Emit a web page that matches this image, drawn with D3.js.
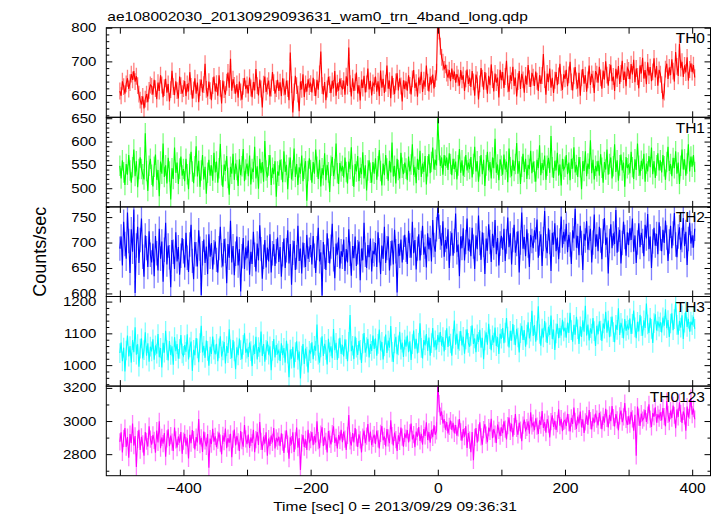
<!DOCTYPE html>
<html><head><meta charset="utf-8">
<script src="https://cdn.jsdelivr.net/npm/d3@7"></script>
<style>
body{margin:0;background:#fff}
svg{display:block}
text{font-family:"Liberation Sans",Arial,Helvetica,sans-serif;fill:#000}
</style>
</head><body>
<svg id="c" width="718" height="516"></svg>
<script>
// ---------- data ----------
const title = "ae108002030_20130929093631_wam0_trn_4band_long.qdp";
const xLabel = "Time [sec] 0 = 2013/09/29 09:36:31";
const yLabel = "Counts/sec";
const tStart = -500, tStep = 2;           // bin start and width (s)
const xDomain = [-521.3, 428.8];
const xTicks = [-500,-400,-300,-200,-100,0,100,200,300,400];
const xTickLabels = [-400,-200,0,200,400];
const panelNames = ["TH0","TH1","TH2","TH3","TH0123"];
const panelColors = ["#ff0000","#00ff00","#0000ff","#00ffff","#ff00ff"];
const yDomains = [[534,800],[460,652],[594,770],[934,1216],[2670,3211]];
const yMajorTicks = [[600,700,800],[500,550,600,650],[600,650,700,750],[1000,1100,1200],[2800,3000,3200]];
const yMinorStep = [20,10,10,20,100];
const errors = [25,22,24,31,52];

const th0 = [
612,598,641,625,604,633,650,618,637,662,645,671,640,656,628,603,585,572,596,560,588,603,579,614,630,
626,601,645,619,588,637,612,659,630,594,622,648,607,633,581,616,672,625,600,641,613,590,655,628,604,
619,642,597,633,611,668,626,589,615,650,604,637,579,622,646,608,631,693,617,596,640,613,585,628,655,
611,634,598,659,620,575,643,616,601,638,667,622,708,613,647,629,604,633,592,640,609,586,626,651,618,
630,605,652,621,594,639,614,677,628,599,646,618,563,632,655,609,627,643,596,621,668,637,604,619,645,
612,638,597,650,624,601,643,619,585,726,631,548,609,657,628,603,552,640,617,662,594,633,610,647,625,
634,608,651,622,597,645,616,663,729,628,602,639,585,618,654,631,606,642,620,671,598,635,613,649,626,
619,643,601,656,627,741,634,596,650,612,638,667,605,629,584,646,621,657,608,633,679,617,642,599,636,
628,655,610,641,597,673,622,648,606,635,688,619,643,591,657,626,603,639,665,614,650,627,581,644,618,
641,613,659,629,602,648,674,621,637,595,652,630,669,609,644,625,688,638,611,654,632,661,620,649,668,
840,790,745,712,698,676,690,665,652,674,641,679,648,670,637,662,651,628,674,645,659,612,648,676,633,
652,624,671,639,598,661,645,587,633,680,650,616,668,641,604,657,629,691,646,611,664,637,652,593,675,
644,668,621,655,702,633,610,659,642,684,627,652,596,640,671,618,663,645,607,658,631,689,649,624,666,
653,627,670,641,612,659,633,658,722,646,601,664,638,679,622,651,606,644,668,629,657,693,637,615,662,
648,675,626,660,699,639,614,657,683,642,620,666,598,651,677,634,659,610,645,688,630,663,647,606,671,
662,637,684,651,619,673,646,700,659,628,667,690,641,655,612,678,649,686,633,664,702,645,670,626,681,
673,647,692,661,705,638,679,655,620,688,664,711,649,674,632,697,658,683,641,669,709,652,686,628,675,
662,631,588,609,677,693,648,682,659,706,671,640,728,685,657,752,680,699,654,688,667,712,643,676,694,
668,689,652];

const th1 = [
548,521,560,534,507,552,529,571,538,512,545,583,526,558,502,541,566,541,530,519,618,537,494,548,563,
529,504,546,572,518,539,483,557,531,596,524,549,510,565,536,476,543,520,587,533,555,509,542,568,527,
541,515,563,530,498,552,578,536,511,547,590,525,559,503,538,571,519,546,488,533,561,527,549,516,576,
534,557,512,543,595,528,503,551,537,569,522,486,546,531,574,518,553,539,505,562,528,547,584,515,540,
553,526,570,508,541,535,589,521,547,499,563,532,556,514,601,538,523,549,571,507,544,530,558,482,536,
527,561,540,513,579,535,550,498,544,566,519,538,585,524,552,507,545,531,570,515,542,558,473,537,564,
539,512,556,531,583,546,520,561,504,543,528,575,517,550,534,492,548,567,526,541,596,532,509,554,536,
548,523,566,535,510,557,541,588,527,503,552,536,569,515,544,530,577,521,549,495,538,560,533,512,556,
531,564,518,547,582,537,506,553,528,571,542,516,559,534,598,525,548,510,563,539,521,576,544,530,555,
542,517,568,536,551,594,528,546,511,563,539,580,524,553,535,569,508,547,573,532,556,587,540,561,549,
650,582,548,566,529,571,548,566,539,575,552,528,563,541,557,519,549,584,533,560,527,546,571,538,555,
541,567,523,552,589,536,558,514,547,571,530,561,505,549,578,538,556,521,566,543,606,533,551,517,562,
548,529,572,540,557,513,585,545,526,561,537,552,597,531,558,509,546,574,535,563,520,550,541,580,532,
557,536,514,561,543,592,528,554,539,570,518,548,565,533,612,545,522,559,538,576,527,551,506,563,540,
546,571,530,555,517,563,542,588,534,550,524,567,545,498,558,537,579,526,553,541,603,532,561,519,548,
536,559,527,573,544,512,556,540,583,529,552,566,521,547,594,535,560,516,549,572,538,555,503,567,543,
551,532,578,545,520,562,539,596,548,527,559,541,574,514,553,536,569,545,587,530,558,522,549,575,538,
560,534,571,547,518,556,589,537,552,526,565,543,579,531,555,509,548,583,540,562,527,553,594,536,568,
546,571,535];

const th2 = [
688,712,655,741,697,668,759,703,640,726,682,765,601,694,731,660,705,747,672,633,714,689,652,722,676,
661,698,634,713,679,645,727,668,702,623,686,739,657,694,671,612,705,682,648,720,663,691,637,674,709,
683,651,719,670,642,696,735,664,628,701,677,653,724,688,597,679,706,660,692,638,716,672,699,647,681,
702,666,641,689,731,675,653,707,684,620,697,670,743,661,693,636,678,712,655,687,604,673,709,648,690,
669,704,637,682,658,721,676,643,698,665,734,687,629,672,705,651,690,663,716,641,679,697,654,683,710,
662,691,633,677,708,650,685,724,659,697,617,680,703,646,671,733,664,688,639,700,675,652,715,668,686,
695,657,713,674,640,689,729,663,681,596,701,672,646,718,684,659,692,737,667,630,698,676,710,649,683,
672,706,644,687,661,726,678,635,693,669,712,654,681,702,626,688,665,739,676,650,695,671,708,643,684,
677,699,652,720,685,638,694,668,731,660,689,712,645,679,704,657,725,683,602,697,674,706,661,690,715,
686,658,723,694,670,741,679,705,647,688,716,665,699,733,676,692,651,718,687,709,663,744,695,682,726,
768,731,710,694,742,672,705,688,726,650,698,719,674,703,757,681,696,634,712,689,728,665,701,747,684,
706,673,729,692,648,714,687,753,699,666,720,695,638,708,684,736,701,662,717,690,744,677,709,655,698,
713,686,727,664,702,749,691,718,657,705,735,680,697,722,641,700,759,688,711,673,726,694,652,715,703,
689,724,706,745,670,698,716,654,707,762,693,679,728,701,644,719,696,738,683,710,667,704,751,690,721,
702,737,681,715,696,658,724,708,766,690,713,675,733,699,646,717,704,742,686,709,727,661,700,755,692,
716,683,731,704,667,722,748,695,710,639,703,736,689,718,697,764,680,706,725,659,699,741,711,674,720,
695,728,705,747,682,714,660,700,738,691,719,703,673,735,708,756,687,712,650,702,729,694,717,677,740,
708,683,725,699,743,710,664,702,733,689,718,758,696,671,712,730,686,705,748,693,721,656,707,739,698,
714,690,727];

const th3 = [
1038,1071,1012,1055,980,1046,1093,1027,1060,1008,1079,1041,1119,1033,1066,995,1052,1084,1021,1047,1103,1030,1069,1011,1058,
1043,1081,1017,1062,1036,1098,1025,1054,993,1070,1039,1108,1047,1015,1076,1032,1059,1001,1088,1044,1066,1020,1051,1095,1037,
1029,1063,1042,1097,1018,1056,1074,982,1048,1031,1085,1053,1009,1069,1124,1040,1061,1023,1077,1045,998,1058,1035,1090,1049,
1034,1067,1012,1053,1091,1027,1046,1073,1005,1060,1038,1113,1050,1022,1079,1043,987,1056,1031,1084,1047,1019,1064,1100,1039,
1052,1026,1071,1044,997,1062,1035,1089,1018,1057,1040,1106,1029,1066,1011,1048,1075,1033,1059,984,1045,1082,1024,1063,1037,
1046,1013,1069,1031,1054,1008,1077,1036,962,1049,1020,1058,992,1041,1075,1017,1043,958,1030,1066,1004,1052,1027,977,1045,
1038,1072,1019,1061,1045,1128,1033,1008,1056,1091,1029,1067,1048,1002,1083,1040,1059,1022,1114,1047,1070,1016,1053,1086,1035,
1064,1027,1081,1050,1012,1073,1158,1044,1061,1019,1090,1055,1032,1076,1048,1007,1068,1101,1039,1057,1083,1024,1066,1045,1093,
1051,1084,1030,1067,1112,1046,1073,1018,1059,1096,1038,1077,1055,1123,1042,1010,1068,1089,1034,1062,1105,1049,1071,1026,1080,
1058,1093,1041,1075,1016,1066,1109,1052,1083,1037,1070,1132,1054,1021,1079,1062,1098,1045,1087,1030,1069,1117,1056,1078,1049,
1095,1072,1104,1061,1088,1043,1079,1116,1057,1091,1068,1030,1083,1140,1064,1099,1050,1076,1107,1062,1089,1036,1081,1113,1070,
1058,1092,1125,1067,1084,1041,1097,1073,1111,1055,1086,1019,1078,1103,1064,1130,1082,1047,1094,1071,1118,1060,1088,1035,1099,
1083,1117,1069,1102,1148,1090,1056,1108,1077,1129,1095,1063,1114,1087,1040,1101,1124,1079,1110,1058,1096,1135,1084,1105,1171,
1092,1126,1074,1109,1185,1098,1061,1115,1087,1139,1103,1070,1121,1095,1156,1082,1112,1048,1100,1130,1085,1117,1093,1143,1106,
1118,1086,1134,1101,1165,1110,1074,1127,1096,1152,1113,1067,1122,1089,1141,1105,1187,1093,1128,1078,1116,1099,1148,1107,1060,
1124,1097,1138,1109,1076,1131,1115,1168,1102,1140,1088,1121,1153,1104,1072,1127,1111,1179,1095,1133,1116,1084,1145,1108,1125,
1112,1147,1098,1130,1172,1119,1085,1136,1106,1158,1123,1093,1141,1117,1194,1128,1101,1149,1114,1070,1132,1160,1109,1138,1121,
1135,1103,1150,1124,1176,1116,1142,1089,1131,1163,1110,1145,1199,1127,1096,1139,1118,1157,1082,1134,1169,1120,1146,1105,1137,
1126,1152,1114];

const th0123 = [
2874,2932,2811,2896,2958,2843,2903,2779,2921,2867,2985,2852,2910,2722,2889,2947,2825,2905,2862,2791,2934,2878,2846,2969,2891,
2857,2916,2883,2809,2942,2871,2998,2836,2901,2864,2927,2785,2893,2950,2848,2912,2873,2819,2961,2886,2840,2907,2869,2934,2802,
2879,2923,2851,2896,2774,2917,2866,2945,2888,2829,2903,2871,3012,2858,2899,2814,2936,2880,2847,2921,2718,2894,2861,2953,2876,
2908,2842,2885,2930,2867,2799,2914,2876,2955,2836,2897,2869,2923,2781,2891,2948,2853,2910,2874,2820,2939,2882,2845,2976,2893,
2861,2919,2837,2901,2868,2947,2812,2888,2933,2856,2994,2877,2825,2906,2863,2932,2790,2894,2850,2913,2871,2958,2834,2899,2879,
2905,2848,2926,2872,2807,2891,2944,2861,2773,2902,2858,2932,2814,2880,2961,2839,2897,2705,2868,2915,2843,2890,2826,2947,2874,
2887,2933,2854,2911,2870,2998,2882,2836,2921,2963,2849,2906,2878,2810,2939,2891,2859,2924,2968,2867,2901,2835,2916,2883,2947,
2872,2936,2891,2825,2914,3036,2880,2852,2928,2871,2957,2898,2843,2920,2886,2811,2903,2942,2866,2909,2982,2875,2937,2854,2896,
2918,2861,2942,2893,2835,2925,2970,2884,2907,2846,2951,2899,2866,3004,2912,2853,2931,2888,2820,2914,2877,2960,2903,2845,2926,
2897,2946,2871,2929,2985,2889,2918,2842,2936,2905,2964,2880,2923,2858,2951,2910,2993,2886,2934,2869,2947,2902,2975,2917,2941,
3225,3105,3030,3058,2985,3012,2948,2994,2925,2968,3003,2947,2989,2926,2975,2911,2958,3012,2934,2882,2951,2906,2969,2838,2927,
2885,2812,2934,2763,2901,2958,2870,2929,2992,2904,2857,2948,2981,2915,2873,2960,2937,3014,2896,2952,2921,2867,2979,2943,2909,
2962,2927,2998,2951,2889,2973,3021,2938,2984,2906,2967,3042,2955,2917,2990,2946,2879,2976,3009,2943,2961,2998,2924,3053,2971,
2988,2945,3017,2969,2922,3004,2976,3060,2958,2993,2930,3011,2982,2901,2996,3035,2964,3002,2947,2985,3071,2972,3014,2939,2998,
3006,2970,3043,2991,2937,3019,2983,3082,2998,2952,3027,2986,3058,2961,3011,2928,2995,3034,2976,3066,3003,2949,3021,2987,3045,
3012,2973,3049,3005,2951,3028,2990,3074,3016,2962,3037,2999,3091,3020,2968,3042,3007,2944,3031,3063,2993,3025,3108,3010,2977,
3029,2981,3056,3013,2942,3038,2790,3087,3024,2970,3045,3005,3019,3067,2995,3036,3101,3011,2964,3049,3026,3083,2990,3041,3018,
3052,3004,3079,3027,2968,3121,3040,2996,3063,3018,3094,3035,2957,3070,3025,3113,3046,2989,3058,3031,2942,3087,3022,3066,3139,
3038,3075,3011];

const seriesValues = [th0, th1, th2, th3, th0123];

// ---------- layout ----------
const pLeft = 106.3, pRight = 710.5, pTop = 27.7, panelH = 89.6;

const svg = d3.select("#c");
const x = d3.scaleLinear().domain(xDomain).range([pLeft, pRight]);

function stretch(sel, k) {
  sel.each(function () {
    const t = d3.select(this);
    const ax = +(t.attr("x") || 0);
    t.attr("transform", `translate(${ax},0) scale(${k},1) translate(${-ax},0)`);
  });
}

seriesValues.forEach((vals, i) => {
  const y0 = pTop + i * panelH, y1 = y0 + panelH;
  const y = d3.scaleLinear().domain(yDomains[i]).range([y1, y0]);
  const g = svg.append("g");
  const clipId = "clip" + i;
  svg.append("clipPath").attr("id", clipId)
    .append("rect").attr("x", pLeft).attr("y", y0).attr("width", pRight - pLeft).attr("height", panelH);

  const pts = vals.map((v, j) => ({ t: tStart + j * tStep, v }));
  const err = errors[i];
  const dg = g.append("g").attr("clip-path", `url(#${clipId})`);
  dg.append("g").selectAll("line").data(pts).join("line")
    .attr("x1", d => x(d.t)).attr("x2", d => x(d.t))
    .attr("y1", d => y(d.v - err)).attr("y2", d => y(d.v + err))
    .attr("stroke", panelColors[i]).attr("stroke-opacity", 0.5).attr("stroke-width", 1.3);
  dg.append("path").datum(pts)
    .attr("fill", "none").attr("stroke", panelColors[i]).attr("stroke-width", 1.1)
    .attr("d", d3.line().x(d => x(d.t)).y(d => y(d.v)));

  // minor ticks
  const [d0, d1] = yDomains[i];
  const step = yMinorStep[i];
  const minor = d3.range(Math.ceil(d0 / step) * step, d1 + 0.001, step)
    .filter(v => !yMajorTicks[i].includes(v));

  const noDomain = s => s.select(".domain").remove();
  // left
  g.append("g").attr("transform", `translate(${pLeft},0)`)
    .call(d3.axisLeft(y).tickValues(minor).tickSize(-3).tickFormat(""))
    .call(noDomain);
  const la = g.append("g").attr("transform", `translate(${pLeft},0)`)
    .call(d3.axisLeft(y).tickValues(yMajorTicks[i]).tickSize(-6).tickPadding(10).tickFormat(d3.format("d")))
    .call(noDomain);
  la.selectAll("text").style("font-size", "12.5px").style("font-family", '"Liberation Sans",Arial,sans-serif')
    .attr("fill", "#000");
  stretch(la.selectAll("text"), 1.2);
  // right
  g.append("g").attr("transform", `translate(${pRight},0)`)
    .call(d3.axisRight(y).tickValues(minor).tickSize(-3).tickFormat(""))
    .call(noDomain);
  g.append("g").attr("transform", `translate(${pRight},0)`)
    .call(d3.axisRight(y).tickValues(yMajorTicks[i]).tickSize(-6).tickFormat(""))
    .call(noDomain);
  // top / bottom x ticks
  g.append("g").attr("transform", `translate(0,${y0})`)
    .call(d3.axisTop(x).tickValues(xTicks).tickSize(-6).tickFormat(""))
    .call(noDomain);
  const isLast = i === seriesValues.length - 1;
  const ba = g.append("g").attr("transform", `translate(0,${y1})`)
    .call(d3.axisBottom(x).tickValues(xTicks).tickSize(-6).tickPadding(7)
      .tickFormat(d => (isLast && xTickLabels.includes(d)) ? d3.format("d")(d) : ""))
    .call(noDomain);
  ba.selectAll("text").style("font-size", "14px").style("font-family", '"Liberation Sans",Arial,sans-serif')
    .attr("fill", "#000");
  stretch(ba.selectAll("text"), 1.12);

  g.selectAll(".tick line").attr("stroke", "#000");

  // frame
  g.append("rect").attr("x", pLeft).attr("y", y0).attr("width", pRight - pLeft).attr("height", panelH)
    .attr("fill", "none").attr("stroke", "#000").attr("stroke-width", 1);

  // panel label
  g.append("text").attr("x", 705).attr("y", y0 + 15.5).attr("text-anchor", "end")
    .style("font-size", "15.5px").text(panelNames[i]);
});

// title
const tt = svg.append("text").attr("x", 107.3).attr("y", 20.7).style("font-size", "12.5px").text(title);
stretch(tt, 1.24);
// x label
const xl = svg.append("text").attr("x", 395).attr("y", 510.7).attr("text-anchor", "middle")
  .style("font-size", "12.5px").text(xLabel);
stretch(xl, 1.24);
// y label
svg.append("text").attr("transform", `translate(46,${pTop + 2.5 * panelH}) rotate(-90)`)
  .attr("text-anchor", "middle").style("font-size", "18px").text(yLabel);
</script>
</body></html>
